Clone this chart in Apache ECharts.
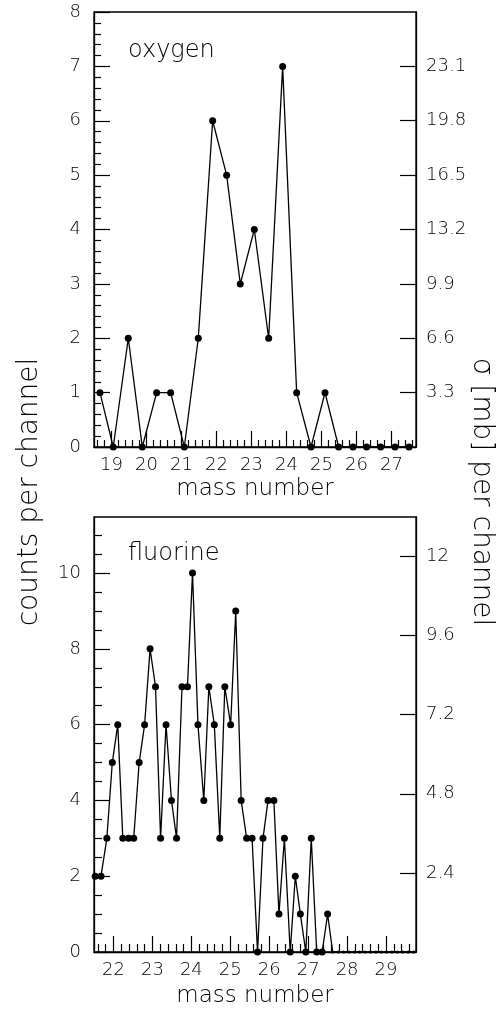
<!DOCTYPE html>
<html>
<head>
<meta charset="utf-8">
<script src="https://cdn.jsdelivr.net/npm/echarts@6/dist/echarts.min.js"></script>
<style>
  html, body { margin: 0; padding: 0; background: #fff; }
  #main { width: 502px; height: 1011px; }
</style>
</head>
<body>
<div id="main"></div>
<script>
// oxygen spectrum (top panel)
var oxyMass = [18.67, 19.05, 19.48, 19.88, 20.29, 20.69, 21.08, 21.48, 21.89, 22.29, 22.68, 23.08,
  23.49, 23.89, 24.29, 24.70, 25.10, 25.49, 25.90, 26.29, 26.69, 27.10, 27.50];
var oxyCounts = [1, 0, 2, 0, 1, 1, 0, 2, 6, 5, 3, 4, 2, 7, 1, 0, 1, 0, 0, 0, 0, 0, 0];

// fluorine spectrum (bottom panel)
var fluMass = [21.53, 21.68, 21.83, 21.97, 22.11, 22.24, 22.39, 22.52, 22.66, 22.80, 22.94, 23.08,
  23.21, 23.35, 23.49, 23.62, 23.76, 23.90, 24.03, 24.17, 24.32, 24.45, 24.59, 24.73,
  24.86, 25.01, 25.14, 25.28, 25.42, 25.56, 25.70, 25.84, 25.97, 26.12, 26.25, 26.39,
  26.54, 26.67, 26.80, 26.94, 27.08, 27.22, 27.36, 27.50, 27.63, 27.77, 27.91, 28.05,
  28.19, 28.32, 28.46, 28.60, 28.74, 28.88, 29.01, 29.15, 29.29, 29.43, 29.57, 29.71];
var fluCounts = [2, 2, 3, 5, 6, 3, 3, 3, 5, 6, 8, 7,
  3, 6, 4, 3, 7, 7, 10, 6, 4, 7, 6, 3,
  7, 6, 9, 4, 3, 3, 0, 3, 4, 4, 1, 3,
  0, 2, 1, 0, 3, 0, 0, 1, 0, 0, 0, 0,
  0, 0, 0, 0, 0, 0, 0, 0, 0, 0, 0, 0];

// tick labels
var oxyMassTicks = [19, 20, 21, 22, 23, 24, 25, 26, 27];
var oxyCountTicks = [0, 1, 2, 3, 4, 5, 6, 7, 8];
var oxySigmaTicks = [3.3, 6.6, 9.9, 13.2, 16.5, 19.8, 23.1];
var fluMassTicks = [22, 23, 24, 25, 26, 27, 28, 29];
var fluCountTicks = [0, 2, 4, 6, 8, 10];
var fluSigmaTicks = [2.4, 4.8, 7.2, 9.6, 12];

function steps(a, b, st, skip) {
  var out = [];
  for (var v = a; v <= b + 1e-9; v += st) {
    var r = Math.round(v * 100) / 100;
    if (!skip || Math.abs(r / skip - Math.round(r / skip)) > 1e-6) out.push(r);
  }
  return out;
}

var FONT = 'DejaVu Sans';
var lbl = { color: '#000', fontFamily: FONT, fontSize: 18, fontWeight: 200 };

function majorX(grid, min, max, ticks, gap) {
  return {
    type: 'value', gridIndex: grid, min: min, max: max, position: 'bottom',
    name: 'mass number', nameLocation: 'middle', nameGap: gap,
    nameTextStyle: { color: '#000', fontFamily: FONT, fontSize: 23, fontWeight: 200 },
    axisLine: { lineStyle: { color: '#000', width: 1.3 } },
    axisTick: { inside: true, length: 16, customValues: ticks, lineStyle: { color: '#000', width: 1.2 } },
    axisLabel: Object.assign({ customValues: ticks, margin: 9 }, lbl),
    splitLine: { show: false }
  };
}
function minorAxis(grid, min, max, ticks, len, pos) {
  return {
    type: 'value', gridIndex: grid, min: min, max: max, position: pos,
    axisLine: { show: false },
    axisTick: { inside: true, length: len, customValues: ticks, lineStyle: { color: '#000', width: 1.2 } },
    axisLabel: { show: false },
    splitLine: { show: false }
  };
}
function majorY(grid, min, max, ticks, pos, fmt, margin) {
  return {
    type: 'value', gridIndex: grid, min: min, max: max, position: pos,
    axisLine: { show: true, lineStyle: { color: '#000', width: 1.3 } },
    axisTick: { show: true, inside: true, length: 16, customValues: ticks, lineStyle: { color: '#000', width: 1.2 } },
    axisLabel: Object.assign({ customValues: ticks, margin: margin, formatter: fmt }, lbl),
    splitLine: { show: false }
  };
}

var chart = echarts.init(document.getElementById('main'));
chart.setOption({
  animation: false,
  backgroundColor: '#fff',
  grid: [
    { left: 94, top: 12, width: 322, height: 435, show: true, borderColor: '#000', borderWidth: 1.3, backgroundColor: 'transparent' },
    { left: 94, top: 517, width: 322, height: 435, show: true, borderColor: '#000', borderWidth: 1.3, backgroundColor: 'transparent' }
  ],
  xAxis: [
    majorX(0, 18.5, 27.7, oxyMassTicks, 31),
    minorAxis(0, 18.5, 27.7, steps(18.6, 27.6, 0.2, 1), 7, 'bottom'),
    majorX(1, 21.5, 29.77, fluMassTicks, 33),
    minorAxis(1, 21.5, 29.77, steps(21.6, 29.6, 0.2, 1), 8, 'bottom')
  ],
  yAxis: [
    majorY(0, 0, 8, oxyCountTicks, 'left', function (v) { return String(v); }, 13),
    minorAxis(0, 0, 8, steps(0.2, 7.8, 0.2, 1), 7, 'left'),
    majorY(0, 0, 26.4, oxySigmaTicks, 'right', function (v) { return (+v).toFixed(1); }, 10),
    majorY(1, 0, 11.48, fluCountTicks, 'left', function (v) { return String(v); }, 13),
    minorAxis(1, 0, 11.48, steps(0.5, 11, 0.5, 2), 8, 'left'),
    majorY(1, 0, 13.2, fluSigmaTicks, 'right', function (v) { return String(+(+v).toFixed(1)); }, 10)
  ],
  series: [
    {
      type: 'line', xAxisIndex: 0, yAxisIndex: 0,
      data: oxyMass.map(function (m, i) { return [m, oxyCounts[i]]; }),
      symbol: 'circle', symbolSize: 7, showAllSymbol: true,
      itemStyle: { color: '#000' }, lineStyle: { color: '#000', width: 1.3 }
    },
    {
      type: 'line', xAxisIndex: 2, yAxisIndex: 3,
      data: fluMass.map(function (m, i) { return [m, fluCounts[i]]; }),
      symbol: 'circle', showAllSymbol: true,
      symbolSize: function (v, p) { return p.dataIndex > 43 ? 3 : 7; },
      itemStyle: { color: '#000' }, lineStyle: { color: '#000', width: 1.3 }
    }
  ],
  graphic: [
    { type: 'text', left: 128, top: 39, style: { text: 'oxygen', fill: '#000', font: '200 24px "DejaVu Sans"' } },
    { type: 'text', left: 128, top: 542, style: { text: 'fluorine', fill: '#000', font: '200 24px "DejaVu Sans"' } },
    { type: 'text', x: 30, y: 492, rotation: Math.PI / 2,
      style: { text: 'counts per channel', fill: '#000', font: '200 28px "DejaVu Sans"', textAlign: 'center', textVerticalAlign: 'middle' } },
    { type: 'text', x: 481, y: 492, rotation: -Math.PI / 2,
      style: { text: 'σ [mb] per channel', fill: '#000', font: '200 28px "DejaVu Sans"', textAlign: 'center', textVerticalAlign: 'middle' } }
  ]
});
</script>
</body>
</html>
